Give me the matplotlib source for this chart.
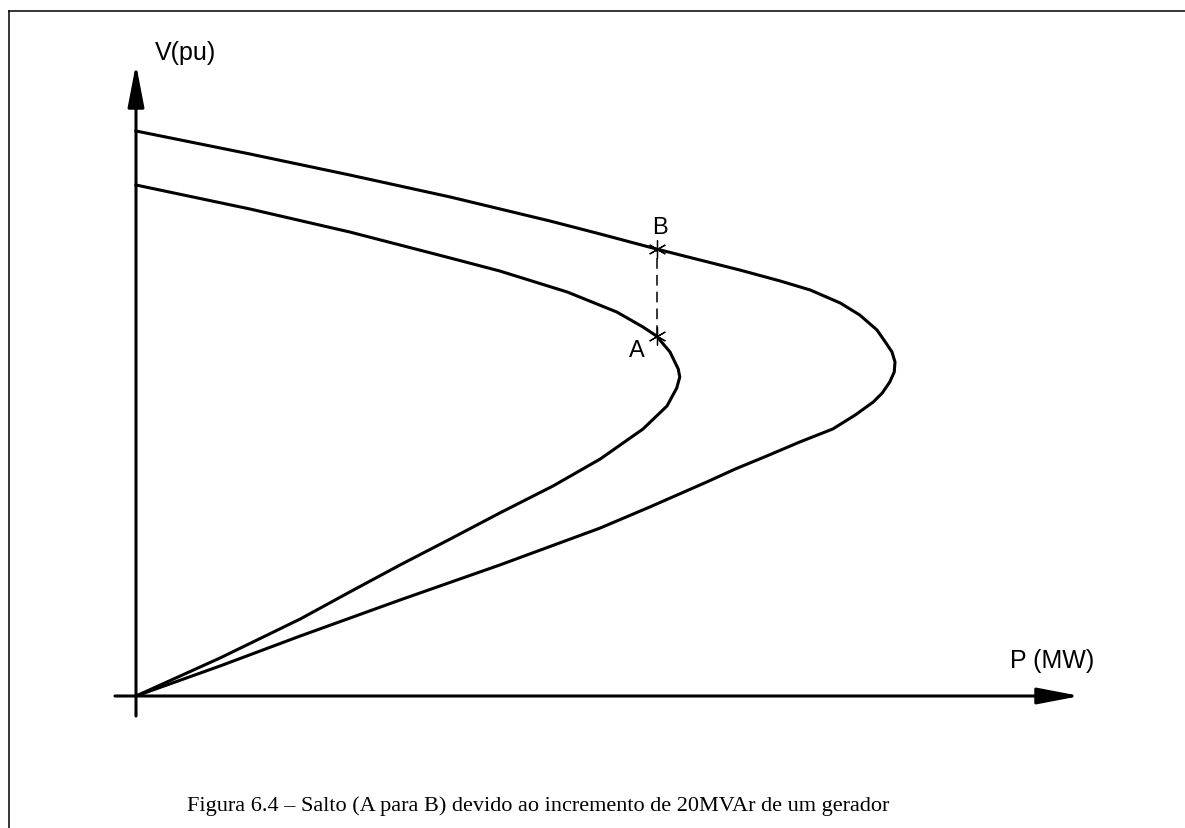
import matplotlib
matplotlib.use("Agg")
import matplotlib.pyplot as plt
from matplotlib.lines import Line2D

# P-V curve after the 20 MVAr increment (upper curve, point B)
p_upper = [0.0, 15.2, 28.5, 41.9, 55.2, 61.9, 69.4, 75.2, 80.5, 85.9, 89.9, 93.9, 96.5,
           98.8, 100.0, 100.8, 101.2, 101.1, 100.5, 99.5, 98.3, 95.9, 92.9, 88.5, 84.1,
           79.9, 76.1, 68.5, 61.9, 48.5, 35.2, 21.9, 11.2, 0.0]
v_upper = [1.130, 1.084, 1.042, 0.998, 0.950, 0.924, 0.894, 0.872, 0.852, 0.830, 0.812,
           0.786, 0.762, 0.732, 0.706, 0.688, 0.668, 0.648, 0.628, 0.606, 0.588, 0.562,
           0.534, 0.508, 0.480, 0.454, 0.428, 0.378, 0.336, 0.262, 0.192, 0.120, 0.060, 0.0]

# P-V curve before the increment (lower curve, point A)
p_lower = [0.0, 15.2, 28.5, 41.9, 48.5, 57.5, 64.1, 67.6, 69.4, 71.2, 72.3, 72.5, 72.1,
           70.8, 67.6, 61.9, 55.6, 48.5, 41.9, 35.2, 28.5, 21.9, 11.2, 0.0]
v_lower = [1.022, 0.974, 0.928, 0.876, 0.850, 0.808, 0.768, 0.738, 0.720, 0.688, 0.654,
           0.638, 0.616, 0.580, 0.534, 0.474, 0.420, 0.366, 0.314, 0.262, 0.208, 0.154,
           0.076, 0.0]

# operating points of the jump
jump_p = [69.4, 69.4]
jump_v = [0.720, 0.894]
jump_labels = ["A", "B"]

x_label = "P (MW)"
y_label = "V(pu)"
caption = "Figura 6.4 \u2013 Salto (A para B) devido ao incremento de 20MVAr de um gerador"

W, H = 1185, 829
fig = plt.figure(figsize=(W / 100, H / 100), dpi=100)
fig.patch.set_facecolor("white")

# axes filling the whole figure; origin of the P-V plane at pixel (136, 697)
ax = fig.add_axes([0, 0, 1, 1])
px_per_mw, px_per_pu = 7.5, 500.0
ox, oy = 136, 697
ax.set_xlim(-ox / px_per_mw, (W - ox) / px_per_mw)
ax.set_ylim((oy - H) / px_per_pu, oy / px_per_pu)
ax.axis("off")

# frame around the figure (top and left edges)
fig.add_artist(Line2D([8.5 / W, 8.5 / W], [0, 1 - 11.5 / H], transform=fig.transFigure,
                      color="black", lw=1.1))
fig.add_artist(Line2D([8.5 / W, 1], [1 - 11.5 / H, 1 - 11.5 / H], transform=fig.transFigure,
                      color="black", lw=1.1))

# coordinate axes with arrow heads
arrow = dict(arrowstyle="-|>,head_length=1.3,head_width=0.25", mutation_scale=20,
             lw=2.2, color="black", shrinkA=0, shrinkB=0)
ax.annotate("", xy=(0, (oy - 65) / px_per_pu), xytext=(0, (oy - 717) / px_per_pu),
            arrowprops=arrow)
ax.annotate("", xy=((1080 - ox) / px_per_mw, 0), xytext=((115 - ox) / px_per_mw, 0),
            arrowprops=arrow)

# the two P-V curves
ax.plot(p_upper, v_upper, color="black", lw=2.2, solid_joinstyle="round")
ax.plot(p_lower, v_lower, color="black", lw=2.2, solid_joinstyle="round")

# dashed jump from A to B with asterisk markers
ax.plot(jump_p, jump_v, color="black", lw=1.1, dashes=(7, 4))
ax.plot(jump_p, jump_v, linestyle="none", marker=(6, 2, 0), ms=13, mew=0.9, mec="black")

font_sans = ["Liberation Sans", "DejaVu Sans"]
ax.text(jump_p[0] - 2.6, jump_v[0] - 0.029, jump_labels[0], fontsize=17,
        family=font_sans, ha="center", va="center")
ax.text(jump_p[1] + 0.5, jump_v[1] + 0.043, jump_labels[1], fontsize=17,
        family=font_sans, ha="center", va="center")

ax.text(2.5, 1.288, y_label, fontsize=18, family=font_sans, ha="left", va="center")
ax.text((1010 - ox) / px_per_mw, 0.072, x_label, fontsize=18, family=font_sans,
        ha="left", va="center")

fig.text(538 / W, 1 - 806 / H, caption, fontsize=16,
         family=["Liberation Serif", "DejaVu Serif"], ha="center", va="center")

fig.savefig("out.png", dpi=100)
